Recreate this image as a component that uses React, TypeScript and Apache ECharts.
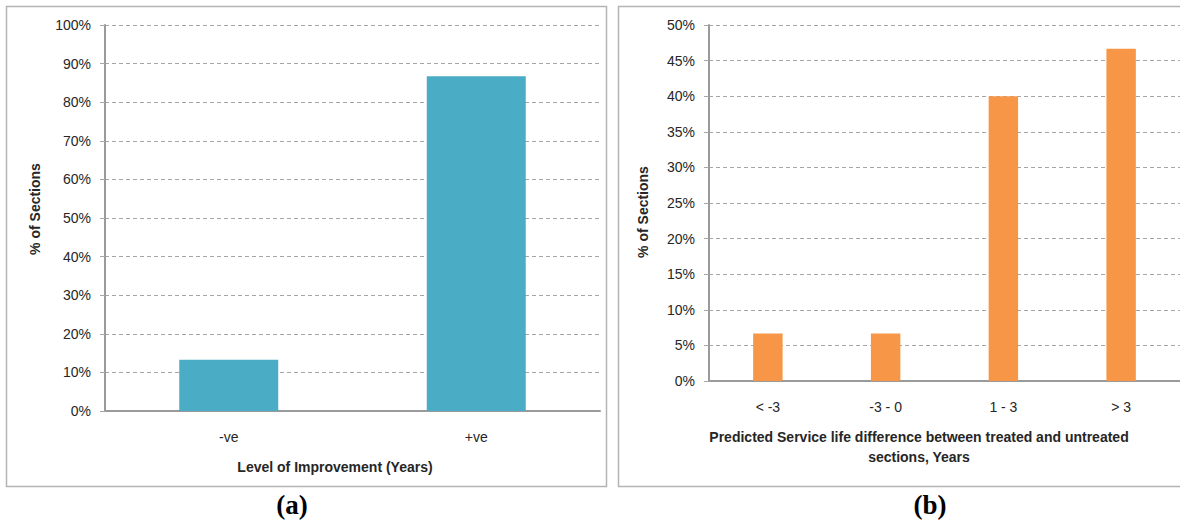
import React, { useEffect, useRef } from "react";
import * as echarts from "echarts";

const catsA = ["-ve", "+ve"];
const valsA = [13.3, 86.7];
const catsB = ["< -3", "-3 - 0", "1 - 3", "> 3"];
const valsB = [6.67, 6.67, 40, 46.67];
const yTitle = "% of Sections";
const xTitleA = "Level of Improvement (Years)";
const xTitleB = "Predicted Service life difference between treated and untreated\nsections, Years";

const FONT = "Liberation Sans";
const gridGray = "#a6a6a6";
const axisGray = "#9a9a9a";
const textCol = "#262626";

export default function App() {
  const ref = useRef<HTMLDivElement>(null);
  useEffect(() => {
    if (!ref.current) return;
    const chart = echarts.init(ref.current, undefined, { renderer: "svg" });
    const yAxisBase = (max: number, interval: number, gridIndex: number) => ({
      type: "value" as const,
      gridIndex,
      min: 0,
      max,
      interval,
      axisLine: { show: true, lineStyle: { color: axisGray, width: 2 } },
      axisTick: { show: true, length: 5, lineStyle: { color: gridGray } },
      axisLabel: {
        formatter: "{value}%",
        color: textCol,
        fontFamily: FONT,
        fontSize: 14,
        margin: 14,
      },
      splitLine: { show: true, lineStyle: { color: gridGray, type: [4, 3] as any, width: 1 } },
    });
    const xAxisBase = (data: string[], gridIndex: number, margin: number) => ({
      type: "category" as const,
      gridIndex,
      data,
      axisLine: { show: true, lineStyle: { color: axisGray, width: 2 } },
      axisTick: { show: false },
      axisLabel: { color: textCol, fontFamily: FONT, fontSize: 14, margin },
    });
    const titleStyle = {
      fontFamily: FONT,
      fontWeight: "bold" as const,
      fontSize: 14,
      fill: textCol,
      align: "center" as const,
      verticalAlign: "middle" as const,
    };
    chart.setOption({
      animation: false,
      backgroundColor: "#ffffff",
      grid: [
        { left: 105, top: 25, width: 495, height: 386 },
        { left: 709, top: 25, width: 472, height: 356 },
      ],
      xAxis: [xAxisBase(catsA, 0, 19), xAxisBase(catsB, 1, 19)],
      yAxis: [yAxisBase(100, 10, 0), yAxisBase(50, 5, 1)],
      series: [
        {
          type: "bar",
          xAxisIndex: 0,
          yAxisIndex: 0,
          data: valsA,
          barWidth: "40%",
          itemStyle: { color: "#4bacc6" },
        },
        {
          type: "bar",
          xAxisIndex: 1,
          yAxisIndex: 1,
          data: valsB,
          barWidth: "25%",
          itemStyle: { color: "#f79646" },
        },
      ],
      graphic: [
        {
          type: "rect",
          shape: { x: 6.5, y: 6.5, width: 600, height: 480 },
          style: { fill: "none", stroke: "#b4b4b4", lineWidth: 1.5 },
          silent: true,
        },
        {
          type: "rect",
          shape: { x: 618.5, y: 6.5, width: 600, height: 480 },
          style: { fill: "none", stroke: "#b4b4b4", lineWidth: 1.5 },
          silent: true,
        },
        {
          type: "text",
          x: 35,
          y: 209,
          rotation: Math.PI / 2,
          style: { ...titleStyle, text: yTitle },
        },
        {
          type: "text",
          x: 643,
          y: 212,
          rotation: Math.PI / 2,
          style: { ...titleStyle, text: yTitle },
        },
        {
          type: "text",
          x: 335,
          y: 467,
          style: { ...titleStyle, text: xTitleA },
        },
        {
          type: "text",
          x: 919,
          y: 447,
          style: { ...titleStyle, text: xTitleB, lineHeight: 20 },
        },
        {
          type: "text",
          x: 292,
          y: 505,
          style: {
            text: "(a)",
            fontFamily: "Liberation Serif",
            fontWeight: "bold",
            fontSize: 27,
            fill: "#000000",
            align: "center",
            verticalAlign: "middle",
          },
        },
        {
          type: "text",
          x: 930,
          y: 505,
          style: {
            text: "(b)",
            fontFamily: "Liberation Serif",
            fontWeight: "bold",
            fontSize: 27,
            fill: "#000000",
            align: "center",
            verticalAlign: "middle",
          },
        },
      ],
    });
    return () => chart.dispose();
  }, []);
  return (
    <div
      ref={ref}
      style={{ position: "fixed", left: 0, top: 0, width: 1180, height: 523 }}
    />
  );
}
